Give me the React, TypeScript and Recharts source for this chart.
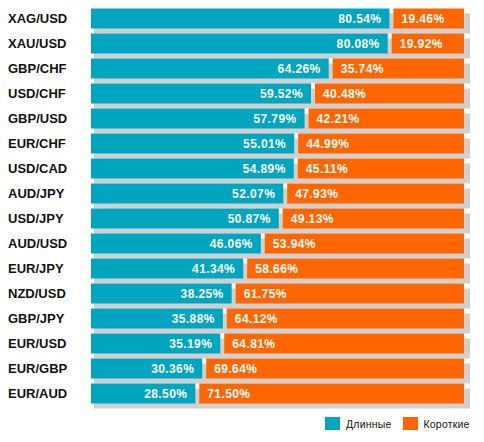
import React from 'react';
import { BarChart, Bar, XAxis, YAxis, LabelList, Legend } from 'recharts';

const pairs = ['XAG/USD','XAU/USD','GBP/CHF','USD/CHF','GBP/USD','EUR/CHF','USD/CAD','AUD/JPY','USD/JPY','AUD/USD','EUR/JPY','NZD/USD','GBP/JPY','EUR/USD','EUR/GBP','EUR/AUD'];
const longs = [80.54,80.08,64.26,59.52,57.79,55.01,54.89,52.07,50.87,46.06,41.34,38.25,35.88,35.19,30.36,28.50];
const shorts = [19.46,19.92,35.74,40.48,42.21,44.99,45.11,47.93,49.13,53.94,58.66,61.75,64.12,64.81,69.64,71.50];
const seriesNames = ['Длинные', 'Короткие'];

const BLUE = '#00a5bf';
const ORANGE = '#ff6600';
const SHADOW = '#d0d0d0';
const FONT = '"Liberation Sans", Arial, sans-serif';
const GAP = 2;

const data = pairs.map((p, i) => ({ pair: p, long: longs[i], short: shorts[i] }));

const LongShape = (props: any) => {
  const { x, y, width, height } = props;
  return <rect x={x} y={y} width={Math.max(0, width - GAP)} height={height} fill={BLUE} />;
};
const ShortShape = (props: any) => {
  const { x, y, width, height } = props;
  return <rect x={x + GAP} y={y} width={Math.max(0, width - GAP)} height={height} fill={ORANGE} />;
};
const ShadowShape = (props: any) => {
  const { x, y, width, height, index } = props;
  return <rect key={`bg-${index}`} x={x + 3} y={y + 5} width={width + 3} height={height} fill={SHADOW} />;
};

const LongLabel = (props: any) => {
  const { x, y, width, height, value } = props;
  return (
    <text x={x + width - 10} y={y + height / 2} dy="0.36em" textAnchor="end" fill="#fff"
      fontFamily={FONT} fontWeight="bold" fontSize={12} letterSpacing={0.4}>
      {Number(value).toFixed(2)}%
    </text>
  );
};
const ShortLabel = (props: any) => {
  const { x, y, height, value } = props;
  return (
    <text x={x + 10} y={y + height / 2} dy="0.36em" textAnchor="start" fill="#fff"
      fontFamily={FONT} fontWeight="bold" fontSize={12} letterSpacing={0.4}>
      {Number(value).toFixed(2)}%
    </text>
  );
};

const PairTick = (props: any) => {
  const { y, payload } = props;
  return (
    <text x={8} y={y} dy="0.36em" textAnchor="start" fill="#111" fontFamily={FONT}
      fontWeight="bold" fontSize={13}>
      {payload.value}
    </text>
  );
};

const LegendContent = () => {
  const colors = [BLUE, ORANGE];
  return (
    <div style={{ display: 'flex', alignItems: 'center', fontFamily: FONT, fontSize: 10.5, color: '#111', letterSpacing: 0.2 }}>
      {seriesNames.map((n, i) => (
        <div key={n} style={{ display: 'flex', alignItems: 'center', marginRight: i === 0 ? 11 : 0 }}>
          <span style={{ display: 'inline-block', width: 15, height: 13, background: colors[i], marginRight: 6 }} />
          <span>{n}</span>
        </div>
      ))}
    </div>
  );
};

export default function App() {
  return (
    <div style={{ position: 'absolute', left: 0, top: 0, width: 484, height: 442, background: '#fff' }}>
      <BarChart width={484} height={442} data={data} layout="vertical"
        margin={{ top: 5.5, right: 20, bottom: 36.5, left: 0 }} barSize={20}>
        <XAxis type="number" domain={[0, 100]} hide />
        <YAxis type="category" dataKey="pair" width={91} axisLine={false} tickLine={false} tick={<PairTick />} interval={0} />
        <Legend verticalAlign="middle" layout="horizontal" content={<LegendContent />}
          wrapperStyle={{ top: 417, left: 325, width: 160, height: 16 }} />
        <Bar dataKey="long" stackId="a" name={seriesNames[0]} fill={BLUE} shape={<LongShape />}
          background={ShadowShape} isAnimationActive={false}>
          <LabelList dataKey="long" content={<LongLabel />} />
        </Bar>
        <Bar dataKey="short" stackId="a" name={seriesNames[1]} fill={ORANGE} shape={<ShortShape />}
          isAnimationActive={false}>
          <LabelList dataKey="short" content={<ShortLabel />} />
        </Bar>
      </BarChart>
    </div>
  );
}
